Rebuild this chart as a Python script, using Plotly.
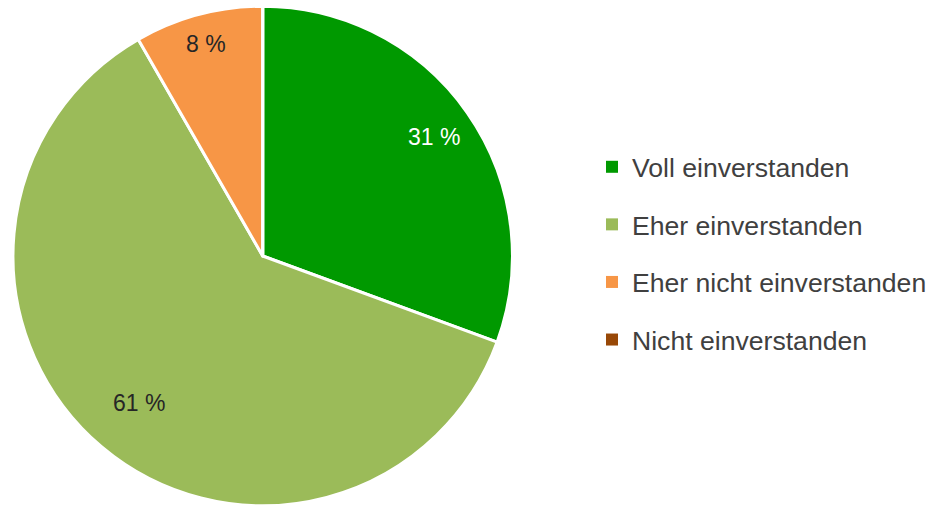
import math
import plotly.graph_objects as go

categories = ["Voll einverstanden", "Eher einverstanden", "Eher nicht einverstanden", "Nicht einverstanden"]
values = [30.6, 61.1, 8.3, 0.0]
label_texts = ["31 %", "61 %", "8 %", ""]
colors = ["#009900", "#9BBB59", "#F79646", "#984807"]
text_colors = ["#FFFFFF", "#262626", "#262626", "#262626"]
label_radius = [0.835, 0.77, 0.877, 0.8]  # fraction of pie radius where each label sits

W, H = 932, 506
M_TOP = 6
CX_PX, R_PX = 263, 250
dom_x = [(CX_PX - R_PX) / W, (CX_PX + R_PX) / W]

fig = go.Figure()
fig.add_trace(go.Pie(
    labels=categories,
    values=values,
    textinfo="none",
    sort=False,
    direction="clockwise",
    rotation=0,
    marker=dict(colors=colors, line=dict(color="#FFFFFF", width=3)),
    showlegend=False,
    domain=dict(x=dom_x, y=[0, 1]),
    hoverinfo="label+percent",
))

# data labels placed along each slice's mid-angle
total = sum(values)
plot_h = H - M_TOP
cum = 0.0
for v, txt, col, rf in zip(values, label_texts, text_colors, label_radius):
    mid = (cum + v / 2) / total * 2 * math.pi
    cum += v
    if not txt:
        continue
    dx = rf * R_PX * math.sin(mid)
    dy = rf * R_PX * math.cos(mid)
    xp = (CX_PX + dx) / W
    yp = 0.5 + dy / plot_h
    fig.add_annotation(
        x=xp, y=yp, xref="paper", yref="paper", text=txt, showarrow=False,
        font=dict(family="Liberation Sans, Arial, sans-serif", size=23, color=col),
        xanchor="center", yanchor="middle",
    )

for i, (cat, col) in enumerate(zip(categories, colors)):
    fig.add_trace(go.Scatter(
        x=[None], y=[None], mode="markers", name=cat,
        marker=dict(symbol="square", size=14, color=col),
        legendgroup=f"g{i}", showlegend=True,
    ))

fig.update_layout(
    width=W, height=H,
    margin=dict(l=0, r=0, t=M_TOP, b=0),
    paper_bgcolor="white", plot_bgcolor="white",
    xaxis=dict(visible=False), yaxis=dict(visible=False),
    legend=dict(
        x=0.636, y=0.505, xanchor="left", yanchor="middle",
        font=dict(family="Liberation Sans, Arial, sans-serif", size=26.6, color="#404040"),
        tracegroupgap=20, itemsizing="constant",
    ),
    font=dict(family="Liberation Sans, Arial, sans-serif"),
)

fig.write_html("out.html")
